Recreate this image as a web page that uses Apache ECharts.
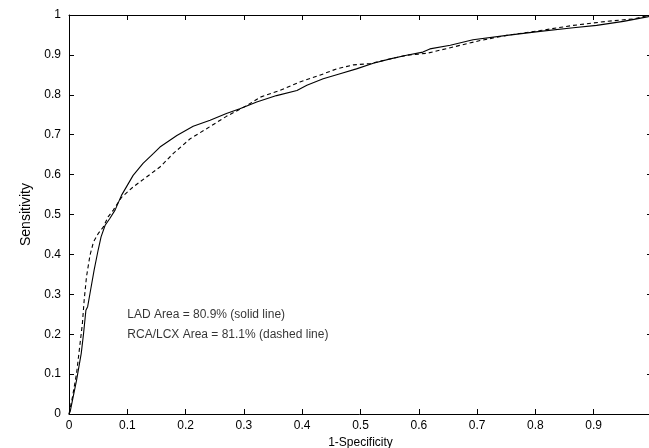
<!DOCTYPE html>
<html>
<head>
<meta charset="utf-8">
<script src="https://cdn.jsdelivr.net/npm/echarts@6/dist/echarts.min.js"></script>
<style>html,body{margin:0;padding:0;background:#fff;}#c{width:649px;height:448px;}</style>
</head>
<body>
<div id="c"></div>
<script>
// LAD (solid line): [1-specificity, sensitivity]
const ladFpr = [0, 0.002, 0.013, 0.021, 0.025, 0.029, 0.032, 0.036, 0.043, 0.050, 0.055, 0.062, 0.070, 0.079, 0.090, 0.110, 0.127, 0.145, 0.156, 0.185, 0.213, 0.242, 0.270, 0.293, 0.322, 0.356, 0.391, 0.408, 0.436, 0.465, 0.493, 0.522, 0.551, 0.579, 0.607, 0.619, 0.654, 0.693, 0.751, 0.808, 0.865, 0.905, 0.951, 0.994, 1];
const ladTpr = [0, 0.006, 0.085, 0.152, 0.202, 0.260, 0.269, 0.302, 0.360, 0.411, 0.444, 0.473, 0.490, 0.511, 0.548, 0.598, 0.628, 0.653, 0.669, 0.698, 0.721, 0.736, 0.753, 0.765, 0.782, 0.798, 0.811, 0.824, 0.840, 0.853, 0.865, 0.879, 0.890, 0.899, 0.907, 0.915, 0.924, 0.938, 0.949, 0.959, 0.968, 0.974, 0.984, 0.996, 1];
// RCA/LCX (dashed line)
const rcaFpr = [0, 0.006, 0.013, 0.019, 0.023, 0.026, 0.030, 0.036, 0.042, 0.050, 0.059, 0.067, 0.076, 0.090, 0.110, 0.133, 0.156, 0.179, 0.208, 0.236, 0.270, 0.305, 0.328, 0.362, 0.396, 0.430, 0.459, 0.488, 0.516, 0.545, 0.579, 0.614, 0.654, 0.671, 0.705, 0.751, 0.808, 0.865, 0.922, 0.968, 0.994, 1];
const rcaTpr = [0, 0.043, 0.102, 0.177, 0.227, 0.285, 0.344, 0.398, 0.431, 0.452, 0.469, 0.494, 0.511, 0.543, 0.569, 0.594, 0.619, 0.653, 0.690, 0.715, 0.746, 0.773, 0.794, 0.811, 0.832, 0.849, 0.865, 0.875, 0.878, 0.888, 0.899, 0.904, 0.918, 0.924, 0.936, 0.949, 0.961, 0.974, 0.984, 0.990, 0.999, 1];
const tickValues = [0, 0.1, 0.2, 0.3, 0.4, 0.5, 0.6, 0.7, 0.8, 0.9, 1];
const notes = [
  {x: 0.1, y: 0.25, text: 'LAD Area = 80.9% (solid line)'},
  {x: 0.1, y: 0.2, text: 'RCA/LCX Area = 81.1% (dashed line)'}
];

const FONT = '"Liberation Sans", Arial, Helvetica, sans-serif';
const lad = ladFpr.map((x, i) => [x, ladTpr[i]]);
const rca = rcaFpr.map((x, i) => [x, rcaTpr[i]]);
const fmt = v => {
  const r = Math.round(v * 10) / 10;
  return tickValues.includes(r) ? String(r) : '';
};
const line = {onZero: false, lineStyle: {color: '#000', width: 1}};
const tick = {show: true, inside: true, length: 5, lineStyle: {color: '#000', width: 1}};
const baseX = {type: 'value', min: 0, max: 1, interval: 0.1, splitLine: {show: false}, axisLine: line, axisTick: tick};
const baseY = {type: 'value', min: 0, max: 1, interval: 0.1, splitLine: {show: false}, axisLine: line, axisTick: tick};

const chart = echarts.init(document.getElementById('c'), null, {renderer: 'canvas'});
chart.setOption({
  animation: false,
  backgroundColor: '#fff',
  grid: {left: 69, top: 15, right: -3, bottom: 34, containLabel: false, outerBoundsMode: 'none'},
  xAxis: [
    Object.assign({}, baseX, {
      position: 'bottom',
      name: '1-Specificity', nameLocation: 'middle', nameGap: 23,
      nameTextStyle: {fontFamily: FONT, fontSize: 12, color: '#000'},
      axisLabel: {fontFamily: FONT, fontSize: 12, color: '#000', margin: 6, formatter: fmt}
    }),
    Object.assign({}, baseX, {position: 'top', axisLabel: {show: false}})
  ],
  yAxis: [
    Object.assign({}, baseY, {
      position: 'left',
      name: 'Sensitivity', nameLocation: 'middle', nameGap: 36, nameRotate: 90,
      nameTextStyle: {fontFamily: FONT, fontSize: 14, color: '#000'},
      axisLabel: {fontFamily: FONT, fontSize: 12, color: '#000', margin: 8, formatter: fmt}
    }),
    Object.assign({}, baseY, {position: 'right', axisLabel: {show: false}})
  ],
  series: [
    {type: 'line', data: lad, showSymbol: false, symbol: 'none', lineStyle: {color: '#000', width: 1.1}},
    {type: 'line', data: rca, showSymbol: false, symbol: 'none', lineStyle: {color: '#000', width: 1.1, type: [4, 3]}},
    {type: 'scatter', data: notes.map(n => [n.x, n.y, n.text]), symbolSize: 0, silent: true,
     label: {show: true, position: 'right', distance: 0, formatter: p => p.data[2],
             fontFamily: FONT, fontSize: 12, color: '#000'}}
  ]
});
</script>
</body>
</html>
